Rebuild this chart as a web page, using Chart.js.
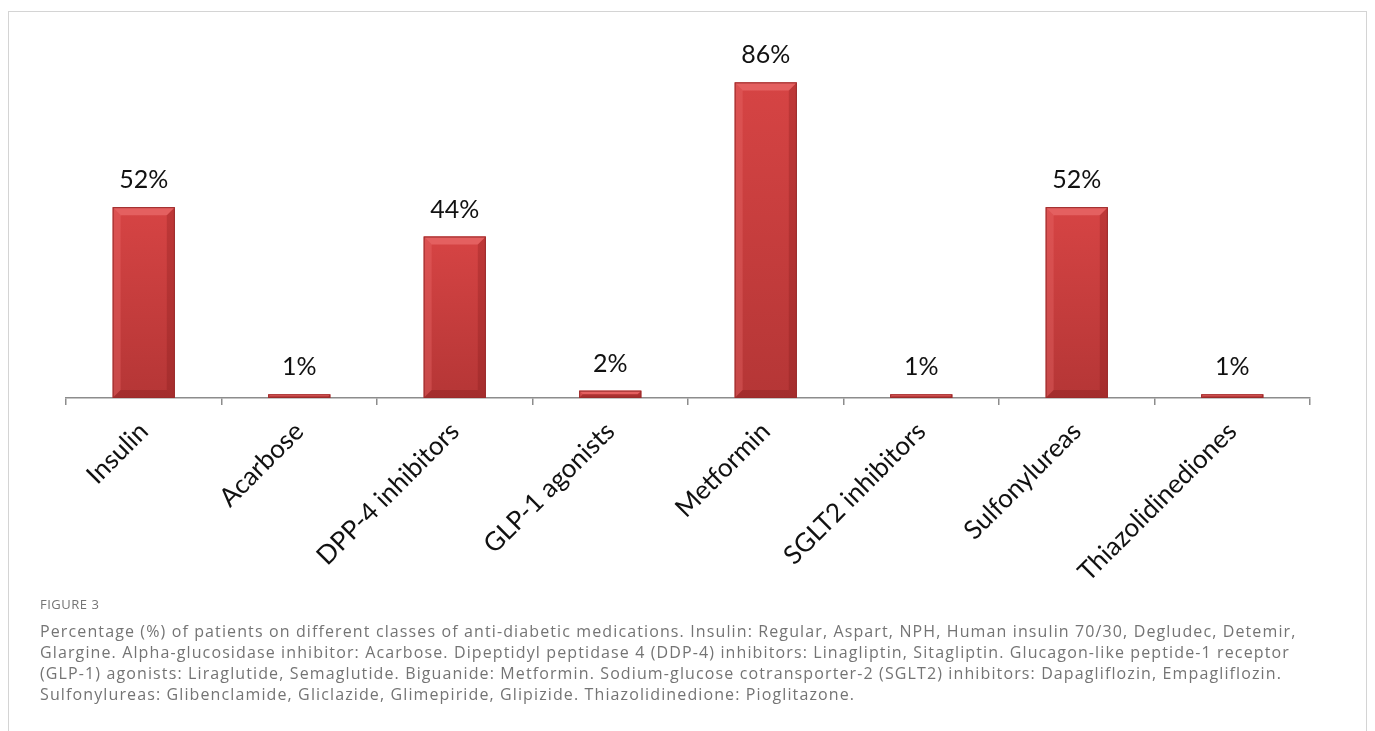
<!DOCTYPE html>
<html>
<head>
<meta charset="utf-8">
<script src="https://cdn.jsdelivr.net/npm/chart.js@4.4.0/dist/chart.umd.min.js"></script>
<style>
  html, body { margin: 0; padding: 0; background: #fff; }
  body { width: 1375px; height: 731px; position: relative; overflow: hidden; }
  #frame {
    position: absolute; left: 8px; top: 11px; width: 1359px; height: 760px;
    border: 1px solid #d4d4d4; box-sizing: border-box;
  }
  #chartBox { position: absolute; left: 0; top: 0; width: 1375px; height: 600px; }
  #caption {
    position: absolute; left: 40px; top: 595px;
    font-family: "Open Sans", sans-serif; color: #747474;
  }
  #caption .fig { font-size: 13px; letter-spacing: 0.5px; margin-bottom: 8px; }
  #caption .txt { font-size: 16px; letter-spacing: 1.12px; line-height: 21px; white-space: nowrap; }
</style>
</head>
<body>
<div id="frame"></div>
<div id="chartBox"><canvas id="myChart"></canvas></div>
<div id="caption">
  <div class="fig">FIGURE 3</div>
  <div class="txt">Percentage (%) of patients on different classes of anti-diabetic medications. Insulin: Regular, Aspart, NPH, Human insulin 70/30, Degludec, Detemir,<br>Glargine. Alpha-glucosidase inhibitor: Acarbose. Dipeptidyl peptidase 4 (DDP-4) inhibitors: Linagliptin, Sitagliptin. Glucagon-like peptide-1 receptor<br>(GLP-1) agonists: Liraglutide, Semaglutide. Biguanide: Metformin. Sodium-glucose cotransporter-2 (SGLT2) inhibitors: Dapagliflozin, Empagliflozin.<br>Sulfonylureas: Glibenclamide, Gliclazide, Glimepiride, Glipizide. Thiazolidinedione: Pioglitazone.</div>
</div>
<script>
// Datos del gráfico
const categorias = ['Insulin', 'Acarbose', 'DPP-4 inhibitors', 'GLP-1 agonists', 'Metformin', 'SGLT2 inhibitors', 'Sulfonylureas', 'Thiazolidinediones'];
const porcentajes = [52, 1, 44, 2, 86, 1, 52, 1];

const ctx = document.getElementById('myChart').getContext('2d');

// Dibuja las barras con efecto biselado
const biselPlugin = {
    id: 'bisel',
    afterDatasetsDraw(chart) {
        const c = chart.ctx;
        const meta = chart.getDatasetMeta(0);
        meta.data.forEach(bar => {
            const w = bar.width;
            const left = bar.x - w / 2, right = bar.x + w / 2;
            const top = bar.y, bottom = bar.base;
            const h = bottom - top;
            const b = Math.min(8, h / 2);
            c.save();
            const g = c.createLinearGradient(0, top, 0, bottom);
            g.addColorStop(0, '#d64444');
            g.addColorStop(1, '#b53636');
            c.fillStyle = g;
            c.fillRect(left, top, w, h);
            // bisel superior
            c.fillStyle = '#e46060';
            c.beginPath();
            c.moveTo(left, top); c.lineTo(right, top);
            c.lineTo(right - b, top + b); c.lineTo(left + b, top + b);
            c.closePath(); c.fill();
            // bisel izquierdo
            c.fillStyle = 'rgba(235,110,110,0.35)';
            c.beginPath();
            c.moveTo(left, top); c.lineTo(left + b, top + b);
            c.lineTo(left + b, bottom - b); c.lineTo(left, bottom);
            c.closePath(); c.fill();
            // bisel derecho
            c.fillStyle = 'rgba(120,20,20,0.25)';
            c.beginPath();
            c.moveTo(right, top); c.lineTo(right - b, top + b);
            c.lineTo(right - b, bottom - b); c.lineTo(right, bottom);
            c.closePath(); c.fill();
            // bisel inferior
            c.fillStyle = 'rgba(110,20,20,0.25)';
            c.beginPath();
            c.moveTo(left, bottom); c.lineTo(left + b, bottom - b);
            c.lineTo(right - b, bottom - b); c.lineTo(right, bottom);
            c.closePath(); c.fill();
            c.strokeStyle = '#9a2b2b';
            c.lineWidth = 1;
            c.strokeRect(left + 0.5, top + 0.5, w - 1, h - 1);
            c.restore();
        });
    }
};

// Etiquetas de porcentaje encima de cada barra
const etiquetasPlugin = {
    id: 'etiquetas',
    afterDatasetsDraw(chart) {
        const c = chart.ctx;
        const meta = chart.getDatasetMeta(0);
        c.save();
        c.font = '25px Lato, sans-serif';
        c.fillStyle = '#111';
        c.textAlign = 'center';
        c.textBaseline = 'alphabetic';
        meta.data.forEach((bar, i) => {
            c.fillText(porcentajes[i] + '%', bar.x, bar.y - 19);
        });
        c.restore();
    }
};

const myChart = new Chart(ctx, {
    type: 'bar',
    data: {
        labels: categorias,
        datasets: [{
            data: porcentajes,
            backgroundColor: 'rgba(0,0,0,0)',
            borderWidth: 0,
            categoryPercentage: 0.8,
            barPercentage: 0.5
        }]
    },
    options: {
        responsive: true,
        maintainAspectRatio: false,
        animation: false,
        layout: { padding: { left: 66, right: 65, top: 31, bottom: 0 } },
        plugins: {
            legend: { display: false },
            tooltip: { enabled: false }
        },
        scales: {
            y: { display: false, min: 0, max: 100 },
            x: {
                afterFit(scale) { scale.height = 202; },
                border: { color: '#8c8c8c', width: 1.5 },
                grid: { offset: true, drawOnChartArea: false, tickLength: 7, color: '#8c8c8c', lineWidth: 1.5 },
                ticks: {
                    autoSkip: false, minRotation: 45, maxRotation: 45, padding: 11,
                    color: '#111', font: { family: 'Lato', size: 26 }
                }
            }
        }
    },
    plugins: [biselPlugin, etiquetasPlugin]
});
</script>
</body>
</html>
